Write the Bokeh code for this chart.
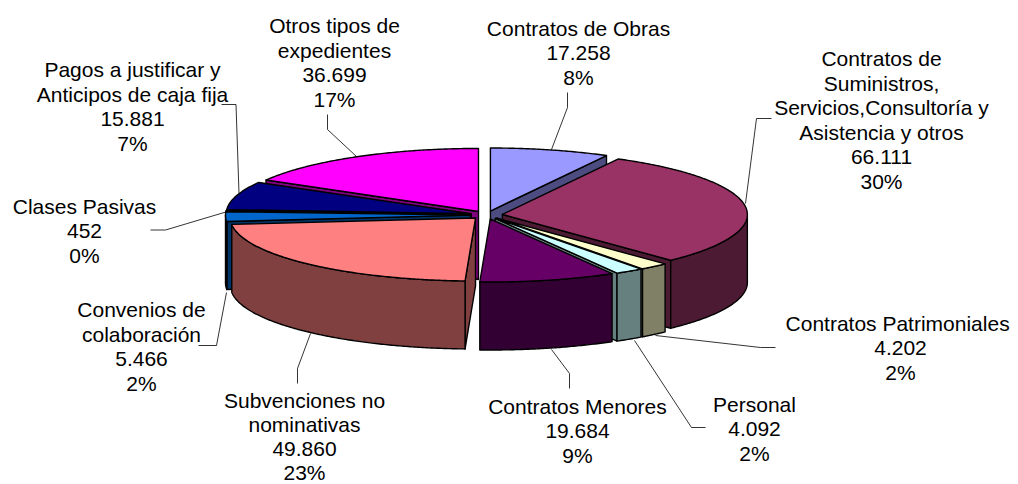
import math
from bokeh.plotting import figure
from bokeh.embed import file_html
from bokeh.resources import INLINE
from bokeh.core.properties import value

# ---- data (clockwise from 12 o'clock) ----
categories = ["Contratos de Obras", "Contratos de Suministros", "Contratos Patrimoniales", "Personal",
              "Contratos Menores", "Subvenciones no nominativas", "Convenios de colaboración",
              "Clases Pasivas", "Pagos a justificar", "Otros tipos de expedientes"]
values = [17258, 66111, 4202, 4092, 19684, 49860, 5466, 452, 15881, 36699]
top_colors = ["#9999FF", "#993366", "#FFFFCC", "#CCFFFF", "#660066", "#FF8080", "#0066CC", "#CCCCFF", "#000080", "#FF00FF"]
side_colors = ["#4C4C80", "#4D1A33", "#808066", "#668080", "#330033", "#804040", "#003366", "#666680", "#000040", "#800080"]
draw_order = [0, 1, 2, 3, 9, 8, 7, 6, 5, 4]

# ---- labels ----
label_lines = [
    (["Contratos de Obras", "17.258", "8%"], 578, 28, 24.6),
    (["Contratos de", "Suministros,", "Servicios,Consultoría y", "Asistencia y otros", "66.111", "30%"], 881, 58, 24.6),
    (["Contratos  Patrimoniales", "4.202", "2%"], 900, 323, 24.6),
    (["Personal", "4.092", "2%"], 754, 404, 24.6),
    (["Contratos Menores", "19.684", "9%"], 577, 406, 24.6),
    (["Subvenciones no", "nominativas", "49.860", "23%"], 304, 400, 24.0),
    (["Convenios de", "colaboración", "5.466", "2%"], 141, 309, 24.6),
    (["Clases Pasivas", "452", "0%"], 84, 206, 24.6),
    (["Pagos a justificar y", "Anticipos de caja fija", "15.881", "7%"], 132, 69, 24.6),
    (["Otros tipos de", "expedientes", "36.699", "17%"], 334, 25, 24.6),
]
FONT = "21px"

leaders = [
    ([567, 567, 551], [92, 107, 149]),
    ([771, 756, 745], [118, 118, 203]),
    ([775, 760, 655], [347, 347, 335]),
    ([705, 691, 634], [427, 427, 340]),
    ([569, 569, 551], [388, 373, 349]),
    ([297, 297, 310], [383, 368, 333]),
    ([198, 216, 226], [345, 345, 292]),
    ([150, 165, 227], [229.5, 229.5, 211]),
    ([221, 235.5, 238.5], [104, 104, 193]),
    ([327, 327, 356], [114, 129, 156]),
]

# ---- geometry ----
CX, CY, A, B, DEPTH, EXPL = 486, 214.5, 245, 63, 68, 16
W, H = 1018, 484

p = figure(width=W, height=H, x_range=(0, W), y_range=(H, 0),
           toolbar_location=None, output_backend="svg", min_border=0,
           outline_line_color=None)
p.axis.visible = False
p.grid.visible = False

total = sum(values)
def arc(cx, cy, t0, t1, dy=0.0):
    n = max(2, int(abs(t1 - t0)) * 2 + 2)
    xs, ys = [], []
    for i in range(n):
        t = math.radians(t0 + (t1 - t0) * i / (n - 1))
        xs.append(cx + A * math.sin(t))
        ys.append(cy - B * math.cos(t) + dy)
    return xs, ys

cum = [0]
for v in values:
    cum.append(cum[-1] + v)

LW = 1.4
def poly(xs, ys, color):
    p.patch(xs, ys, fill_color=color, line_color="black", line_width=LW, line_join="round")

for i in draw_order:
    t0, t1 = cum[i] / total * 360, cum[i + 1] / total * 360
    m = math.radians((t0 + t1) / 2)
    ax = CX + EXPL * math.sin(m)
    ay = CY - EXPL * B / A * math.cos(m)
    # radial walls
    if 180 <= t0 <= 360:
        r = math.radians(t0)
        rx, ry = ax + A * math.sin(r), ay - B * math.cos(r)
        poly([ax, rx, rx, ax], [ay, ry, ry + DEPTH, ay + DEPTH], side_colors[i])
    if 0 <= t1 <= 180:
        r = math.radians(t1)
        rx, ry = ax + A * math.sin(r), ay - B * math.cos(r)
        poly([ax, rx, rx, ax], [ay, ry, ry + DEPTH, ay + DEPTH], side_colors[i])
    # outer wall
    w0, w1 = max(t0, 90), min(t1, 270)
    if w1 > w0:
        xa, ya = arc(ax, ay, w0, w1)
        xb, yb = arc(ax, ay, w1, w0, DEPTH)
        poly(xa + xb, ya + yb, side_colors[i])
    # top
    xa, ya = arc(ax, ay, t0, t1)
    poly([ax] + xa, [ay] + ya, top_colors[i])

for xs, ys in leaders:
    p.line(xs, ys, line_color="#000000", line_width=0.8)

tx, ty, tt = [], [], []
for lines, x, y0, lh in label_lines:
    for j, s in enumerate(lines):
        tx.append(x); ty.append(y0 + j * lh); tt.append(s)
p.text(tx, ty, text=tt, text_font=value("Liberation Sans"), text_font_size=FONT,
       text_align="center", text_baseline="middle", text_color="black")

open("out.html", "w").write(file_html(p, INLINE))
